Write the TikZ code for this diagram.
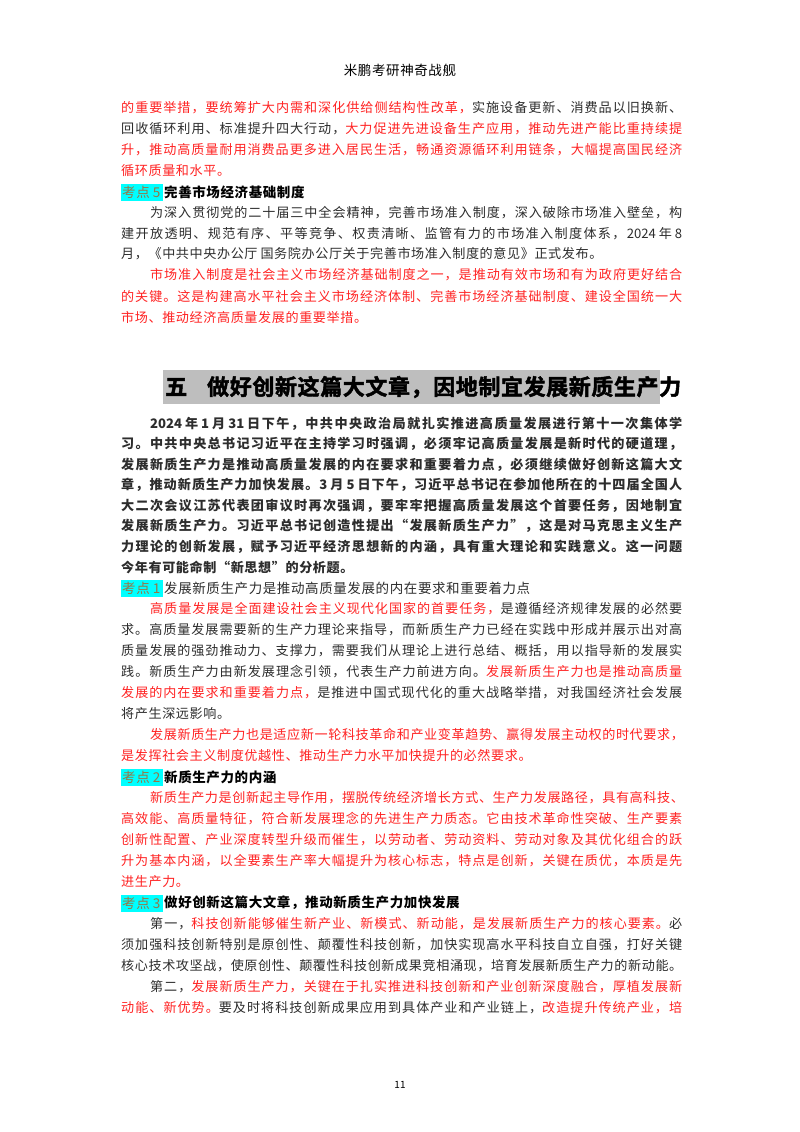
\documentclass[tikz,border=0pt]{standalone}
\usepackage{fontspec}
\setmainfont{Noto Sans CJK SC}
\newfontfamily\heavy[FakeBold=2]{Noto Sans CJK SC Bold}
\definecolor{R}{RGB}{255,35,35}
\definecolor{K}{RGB}{45,45,45}
\definecolor{HL}{RGB}{0,255,255}
\definecolor{HT}{RGB}{150,118,70}
\definecolor{BN}{RGB}{190,190,190}
\makeatletter
\count@="2E80
\loop \XeTeXcharclass\count@=1 \advance\count@ 1 \ifnum\count@<"A000 \repeat
\makeatother
\XeTeXcharclass"FF0C=3 \XeTeXcharclass"3002=3 \XeTeXcharclass"3001=3
\XeTeXcharclass"FF1B=3 \XeTeXcharclass"FF1A=3 \XeTeXcharclass"FF09=3
\XeTeXcharclass"300B=3 \XeTeXcharclass"201D=3
\XeTeXcharclass"FF08=2 \XeTeXcharclass"300A=2 \XeTeXcharclass"201C=2
\XeTeXinterchartokenstate=1
\newcommand\cjkg{\hskip 0.6pt plus 1fil\relax}
\XeTeXinterchartoks 1 1 = {\cjkg}
\XeTeXinterchartoks 1 2 = {\cjkg}
\XeTeXinterchartoks 1 3 = {\cjkg}
\XeTeXinterchartoks 3 1 = {\cjkg}
\XeTeXinterchartoks 3 2 = {\cjkg}
\XeTeXinterchartoks 3 3 = {\cjkg}
\XeTeXinterchartoks 2 1 = {\cjkg}
\XeTeXinterchartoks 0 1 = {\cjkg}
\XeTeXinterchartoks 1 0 = {\cjkg}
\XeTeXinterchartoks 3 0 = {\cjkg}
\XeTeXinterchartoks 0 3 = {\cjkg}
\XeTeXinterchartoks 0 2 = {\cjkg}
\def\lnfont{\fontsize{13.1}{15}\selectfont}
\tikzset{ln/.style={anchor=west,inner sep=0pt,font=\lnfont,text=K}}
\newcommand\LF[3]{\node[ln] (#1) at (121,#2) {\makebox[561pt][s]{#3}};}
\newcommand\LI[3]{\node[ln] (#1) at (150,#2) {\makebox[532pt][s]{#3}};}
\newcommand\LN[4]{\node[ln] (#1) at (#2,#3) {#4};}
\newcommand\LH[4]{\fill[HL] (121,#2-8.5) rectangle (163,#2+8.5);
 \node[ln,text=HT,font=\fontsize{13.5}{15}\selectfont] (#1) at (122,#2) {考点 #3};
 \node[ln,font=\fontsize{13.5}{15}\selectfont] (#1t) at (164,#2) {#4};}
\begin{document}
\begin{tikzpicture}[x=1pt,y=-1pt]
\useasboundingbox (0,0) rectangle (800,1132);
\fill[white] (0,0) rectangle (800,1132);
\node[ln,anchor=center,font=\fontsize{13.5}{16}\selectfont,text=black] (hdr) at (400,70) {米鹏考研神奇战舰};
% top block
\LF{a1}{108}{\color{R}的重要举措，要统筹扩大内需和深化供给侧结构性改革，\color{K}实施设备更新、消费品以旧换新、}
\LF{a2}{129}{回收循环利用、标准提升四大行动，\color{R}大力促进先进设备生产应用，推动先进产能比重持续提}
\LF{a3}{150}{\color{R}升，推动高质量耐用消费品更多进入居民生活，畅通资源循环利用链条，大幅提高国民经济}
\LN{a4}{121}{171}{\color{R}循环质量和水平。}
\LH{k5}{192}{5}{\bfseries\color{black}完善市场经济基础制度}
\LI{a5}{213}{为深入贯彻党的二十届三中全会精神，完善市场准入制度，深入破除市场准入壁垒，构}
\LF{a6}{234}{建开放透明、规范有序、平等竞争、权责清晰、监管有力的市场准入制度体系，2024 年 8}
\LN{a7}{121}{254}{月，《中共中央办公厅\ 国务院办公厅关于完善市场准入制度的意见》正式发布。}
\LI{a8}{275}{\color{R}市场准入制度是社会主义市场经济基础制度之一，是推动有效市场和有为政府更好结合}
\LF{a9}{296}{\color{R}的关键。这是构建高水平社会主义市场经济体制、完善市场经济基础制度、建设全国统一大}
\LN{a10}{121}{317}{\color{R}市场、推动经济高质量发展的重要举措。}
% banner
\fill[BN] (163,370) rectangle (660,404);
\node[ln,text=black,font=\heavy\fontsize{22}{25}\selectfont] (bn1) at (165,387) {五};
\node[ln,text=black,font=\heavy\fontsize{22}{25}\selectfont] (bn2) at (207,387) {\makebox[451pt][s]{做好创新这篇大文章，因地制宜发展新质生产力}};
% bold paragraph
\begingroup
\def\lnfont{\bfseries\fontsize{13.1}{15}\selectfont\color{black}}
\LI{b1}{424}{2024 年 1 月 31 日下午，中共中央政治局就扎实推进高质量发展进行第十一次集体学}
\LF{b2}{444}{习。中共中央总书记习近平在主持学习时强调，必须牢记高质量发展是新时代的硬道理，}
\LF{b3}{465}{发展新质生产力是推动高质量发展的内在要求和重要着力点，必须继续做好创新这篇大文}
\LF{b4}{485}{章，推动新质生产力加快发展。3 月 5 日下午，习近平总书记在参加他所在的十四届全国人}
\LF{b5}{506}{大二次会议江苏代表团审议时再次强调，要牢牢把握高质量发展这个首要任务，因地制宜}
\LF{b6}{526}{发展新质生产力。习近平总书记创造性提出“发展新质生产力”，这是对马克思主义生产}
\LF{b7}{547}{力理论的创新发展，赋予习近平经济思想新的内涵，具有重大理论和实践意义。这一问题}
\LN{b8}{121}{567}{今年有可能命制“新思想”的分析题。}
\endgroup
\LH{k1}{588}{1}{发展新质生产力是推动高质量发展的内在要求和重要着力点}
\LI{c1}{609}{\color{R}高质量发展是全面建设社会主义现代化国家的首要任务，\color{K}是遵循经济规律发展的必然要}
\LF{c2}{630}{求。高质量发展需要新的生产力理论来指导，而新质生产力已经在实践中形成并展示出对高}
\LF{c3}{651}{质量发展的强劲推动力、支撑力，需要我们从理论上进行总结、概括，用以指导新的发展实}
\LF{c4}{672}{践。新质生产力由新发展理念引领，代表生产力前进方向。\color{R}发展新质生产力也是推动高质量}
\LF{c5}{693}{\color{R}发展的内在要求和重要着力点，\color{K}是推进中国式现代化的重大战略举措，对我国经济社会发展}
\LN{c6}{121}{714}{将产生深远影响。}
\LI{c7}{735}{\color{R}发展新质生产力也是适应新一轮科技革命和产业变革趋势、赢得发展主动权的时代要求，}
\LN{c8}{121}{756}{\color{R}是发挥社会主义制度优越性、推动生产力水平加快提升的必然要求。}
\LH{k2}{777}{2}{\bfseries\color{black}新质生产力的内涵}
\LI{d1}{798}{\color{R}新质生产力是创新起主导作用，摆脱传统经济增长方式、生产力发展路径，具有高科技、}
\LF{d2}{819}{\color{R}高效能、高质量特征，符合新发展理念的先进生产力质态。它由技术革命性突破、生产要素}
\LF{d3}{840}{\color{R}创新性配置、产业深度转型升级而催生，以劳动者、劳动资料、劳动对象及其优化组合的跃}
\LF{d4}{861}{\color{R}升为基本内涵，以全要素生产率大幅提升为核心标志，特点是创新，关键在质优，本质是先}
\LN{d5}{121}{882}{\color{R}进生产力。}
\LH{k3}{903}{3}{\bfseries\color{black}做好创新这篇大文章，推动新质生产力加快发展}
\LI{e1}{924}{第一，\color{R}科技创新能够催生新产业、新模式、新动能，是发展新质生产力的核心要素。\color{K}必}
\LF{e2}{945}{须加强科技创新特别是原创性、颠覆性科技创新，加快实现高水平科技自立自强，打好关键}
\LF{e3}{966}{核心技术攻坚战，使原创性、颠覆性科技创新成果竞相涌现，培育发展新质生产力的新动能。}
\LI{e4}{987}{第二，\color{R}发展新质生产力，关键在于扎实推进科技创新和产业创新深度融合，厚植发展新}
\LF{e5}{1008}{\color{R}动能、新优势。\color{K}要及时将科技创新成果应用到具体产业和产业链上，\color{R}改造提升传统产业，培}
\node[ln,anchor=center,font=\fontsize{10}{12}\selectfont,text=black] (pg) at (400,1085) {11};
\end{tikzpicture}
\end{document}
